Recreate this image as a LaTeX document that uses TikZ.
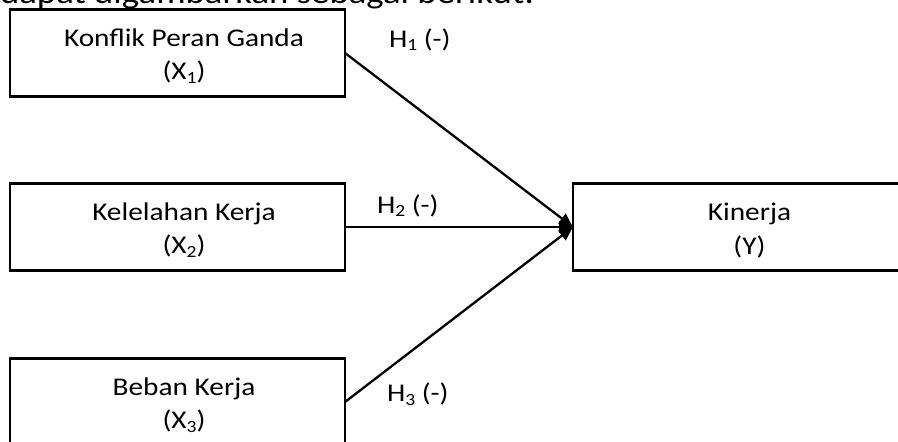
\documentclass[tikz,border=0pt]{standalone}
\usepackage{fontspec}
\setmainfont{Carlito}[FakeStretch=1.15]
\usetikzlibrary{arrows.meta}
\newcommand{\sbs}[1]{\raisebox{-3.5pt}{\fontsize{17}{17}\selectfont #1}}
\begin{document}
\begin{tikzpicture}[x=1pt,y=-1pt,
  box/.style={draw,line width=2.3pt,minimum width=335pt,minimum height=87pt,inner sep=0pt,outer sep=0pt,anchor=north west},
  txt/.style={font=\fontsize{25.5}{30}\selectfont,inner sep=0pt,outer sep=0pt,anchor=base},
  hlab/.style={txt,anchor=base west},
  conn/.style={line width=2.3pt,-{Triangle[length=14pt,width=12pt]}}]
\useasboundingbox (0,0) rectangle (898,442);
\clip (0,0) rectangle (898,442);
\node[hlab,font=\fontsize{32}{36}\selectfont] (intro) at (0,3.5) {dapat digambarkan sebagai berikut:};
% boxes
\node[box] (x1) at (10,9.5) {};
\node[box] (x2) at (10,183.5) {};
\node[box] (x3) at (10,358.5) {};
\node[box,minimum width=345pt] (y) at (573,183.5) {};
% box texts
\node[txt] (x1a) at (184,46.5) {Konflik Peran Ganda};
\node[txt] (x1b) at (184,79.5) {(X\sbs{1})};
\node[txt] (x2a) at (184,220.5) {Kelelahan Kerja};
\node[txt] (x2b) at (184,253.5) {(X\sbs{2})};
\node[txt] (x3a) at (184,395.5) {Beban Kerja};
\node[txt] (x3b) at (184,428.5) {(X\sbs{3})};
\node[txt] (ya) at (749.5,220.5) {Kinerja};
\node[txt] (yb) at (749.5,254) {(Y)};
% connectors
\draw[conn] (x1.east) -- (y.west);
\draw[conn] (x2.east) -- (y.west);
\draw[conn] (x3.east) -- (y.west);
% labels
\node[hlab] (h1) at (389,47.3) {H\sbs{1} (-)};
\node[hlab] (h2) at (377,213) {H\sbs{2} (-)};
\node[hlab] (h3) at (387,401.7) {H\sbs{3} (-)};
\end{tikzpicture}
\end{document}
